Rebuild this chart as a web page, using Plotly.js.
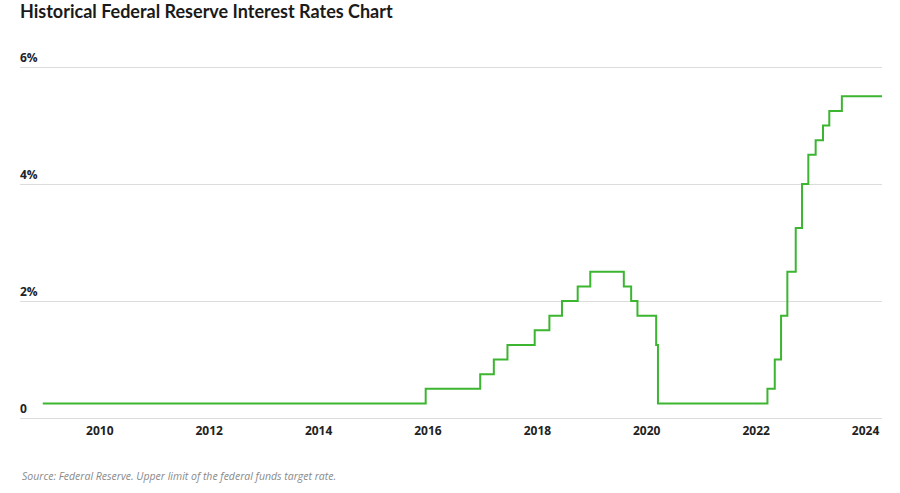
<!DOCTYPE html>
<html>
<head>
<meta charset="utf-8">
<script src="https://cdn.plot.ly/plotly-3.0.1.min.js"></script>
<style>html,body{margin:0;padding:0;background:#fff;}#chart{width:900px;height:493px;}</style>
</head>
<body>
<div id="chart"></div>
<script>
// Upper limit of the federal funds target rate (%), effective dates
const dates = [
  "2008-12-16","2015-12-17","2016-12-15","2017-03-16","2017-06-15","2017-12-14",
  "2018-03-22","2018-06-14","2018-09-27","2018-12-20","2019-08-01","2019-09-19",
  "2019-10-31","2020-03-04","2020-03-16","2022-03-17","2022-05-05","2022-06-16",
  "2022-07-28","2022-09-22","2022-11-03","2022-12-15","2023-02-02","2023-03-23",
  "2023-05-04","2023-07-27","2024-04-20"
];
const rates = [
  0.25,0.50,0.75,1.00,1.25,1.50,
  1.75,2.00,2.25,2.50,2.25,2.00,
  1.75,1.25,0.25,0.50,1.00,1.75,
  2.50,3.25,4.00,4.50,4.75,5.00,
  5.25,5.50,5.50
];
const yTickVals = [0, 2, 4, 6];
const yTickText = ["0", "2%", "4%", "6%"];
const xTickVals = ["2010-01-01","2012-01-01","2014-01-01","2016-01-01","2018-01-01","2020-01-01","2022-01-01","2024-01-01"];
const xTickText = ["2010","2012","2014","2016","2018","2020","2022","2024"];

const trace = {
  x: dates, y: rates, type: "scatter", mode: "lines",
  line: {shape: "hv", color: "#3cb531", width: 2},
  hoverinfo: "x+y"
};

const layout = {
  width: 900, height: 493,
  margin: {l: 20, r: 18, t: 32, b: 75},
  paper_bgcolor: "#fff", plot_bgcolor: "#fff",
  showlegend: false,
  title: {
    text: "<b>Historical Federal Reserve Interest Rates Chart</b>",
    x: 0, xref: "paper", xanchor: "left",
    y: 0.976, yref: "container", yanchor: "middle",
    font: {family: "Lato, 'Open Sans', sans-serif", size: 18, color: "#1a1a1a"}
  },
  xaxis: {
    type: "date",
    range: ["2008-07-17", "2024-04-20"],
    tickvals: xTickVals, ticktext: xTickText,
    showgrid: false, zeroline: false, showline: false, ticks: "",
    ticklabelstandoff: 4,
    tickfont: {family: "'Open Sans', sans-serif", size: 12, color: "#222", weight: "bold"},
    fixedrange: true
  },
  yaxis: {
    range: [0, 6.6],
    tickvals: yTickVals, ticktext: yTickText,
    showgrid: true, gridcolor: "#dcdcdc", gridwidth: 1,
    zeroline: true, zerolinecolor: "#dcdcdc", zerolinewidth: 1,
    showline: false, ticks: "",
    ticklabelposition: "inside",
    ticklabelshift: -9,
    ticklabelstandoff: -3,
    tickfont: {family: "'Open Sans', sans-serif", size: 12, color: "#222", weight: "bold"},
    fixedrange: true
  },
  annotations: [{
    text: "<i>Source: Federal Reserve. Upper limit of the federal funds target rate.</i>",
    xref: "paper", yref: "paper", x: 0, y: -0.15, xanchor: "left", yanchor: "middle",
    showarrow: false,
    font: {family: "'Open Sans', sans-serif", size: 10.5, color: "#8a8a8a"}
  }]
};

Plotly.newPlot("chart", [trace], layout, {displayModeBar: false, staticPlot: false});
</script>
</body>
</html>
